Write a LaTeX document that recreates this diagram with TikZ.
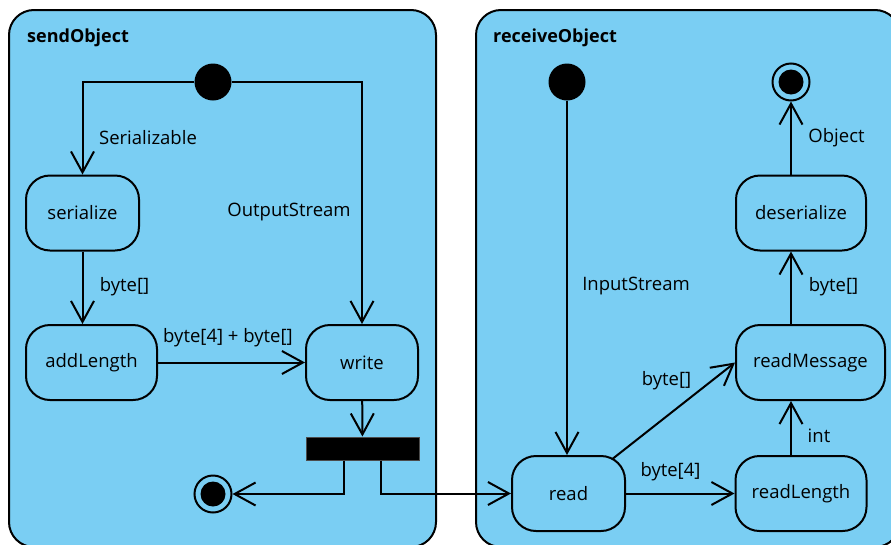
\documentclass[tikz,border=0pt]{standalone}
\usepackage{fontspec}
\setmainfont{Open Sans}
\usetikzlibrary{arrows.meta,calc}
\definecolor{actblue}{RGB}{122,206,243}
\tikzset{
  container/.style={draw=black,line width=2pt,fill=actblue,rounded corners=25pt},
  action/.style={draw=black,line width=2pt,fill=actblue,rounded corners=24pt,
    minimum height=75pt,inner sep=0pt,font=\fontsize{18.5}{20}\selectfont},
  initial/.style={circle,fill=black,minimum size=37pt,inner sep=0pt},
  finalst/.style={circle,draw=black,line width=2pt,fill=actblue,minimum size=37pt,inner sep=0pt,
    path picture={\fill[black] (path picture bounding box.center) circle (12.5pt);}},
  flow/.style={line width=2pt,-{Straight Barb[length=21pt,width=23pt,line width=2pt]}},
  lbl/.style={font=\fontsize{18.5}{20}\selectfont,inner sep=0pt},
  ttl/.style={font=\fontsize{18}{20}\selectfont\bfseries,inner sep=0pt,anchor=west},
  barst/.style={draw=black!70,line width=1pt,fill=black,minimum width=113pt,minimum height=23pt,inner sep=0pt}
}
\begin{document}
\begin{tikzpicture}[x=1pt,y=-1pt]
\useasboundingbox (0,0) rectangle (891,544);
\clip (0,0) rectangle (891,544);
\fill[white] (0,0) rectangle (891,544);
% containers
\draw[container] (9,10) rectangle (436,547);
\draw[container] (476,10) rectangle (900,547);
\node[ttl] (t1) at (27,37.5) {sendObject};
\node[ttl] (t2) at (493,37.5) {receiveObject};
% sendObject
\node[initial] (s1) at (213,82) {};
\node[action,minimum width=113pt] (serialize) at (82.5,213) {serialize};
\node[action,minimum width=131pt] (addLength) at (91.5,362.5) {addLength};
\node[action,minimum width=112pt] (write) at (362,362.5) {write};
\node[barst] (bar) at (362.5,448.5) {};
\node[finalst] (f1) at (213,494) {};
% receiveObject
\node[initial] (s2) at (567,82) {};
\node[action,minimum width=113pt] (read) at (568.5,493.5) {read};
\node[action,minimum width=131pt] (readLength) at (801,493.5) {readLength};
\node[action,minimum width=149pt] (readMessage) at (810.5,362.5) {readMessage};
\node[action,minimum width=130pt] (deserialize) at (801,213) {deserialize};
\node[finalst] (f2) at (791,82) {};
\coordinate (cx) at (791,0);
% flows sendObject
\draw[flow] (s1) -| (serialize);
\draw[flow] (s1) -| (write);
\draw[flow] (serialize.south) -- (serialize.south |- addLength.north);
\draw[flow] (addLength) -- (write);
\draw[flow] (write) -- (bar);
\draw[flow] ([xshift=-18.5pt]bar.south) |- (f1);
\draw[flow] ([xshift=18.5pt]bar.south) |- (read);
% flows receiveObject
\draw[flow] (s2) -- (s2 |- read.north);
\draw[flow] (read) -- (readLength);
\draw[flow] (cx |- readLength.north) -- (cx |- readMessage.south);
\draw[flow,shorten <=56pt] (read.center) -- (readMessage.west);
\draw[flow] (cx |- readMessage.north) -- (cx |- deserialize.south);
\draw[flow] (cx |- deserialize.north) -- (f2);
% labels
\node[lbl] (l1) at (148,137.5) {Serializable};
\node[lbl] (l2) at (289,212.5) {OutputStream};
\node[lbl] (l3) at (124.5,286.5) {byte[]};
\node[lbl] (l4) at (228,337.5) {byte[4] + byte[]};
\node[lbl] (l5) at (636,286.5) {InputStream};
\node[lbl] (l6) at (666.5,380.5) {byte[]};
\node[lbl] (l7) at (670.5,471.5) {byte[4]};
\node[lbl] (l8) at (819,435.5) {int};
\node[lbl] (l9) at (833.5,286.5) {byte[]};
\node[lbl] (l10) at (836.5,137.5) {Object};
\end{tikzpicture}
\end{document}
